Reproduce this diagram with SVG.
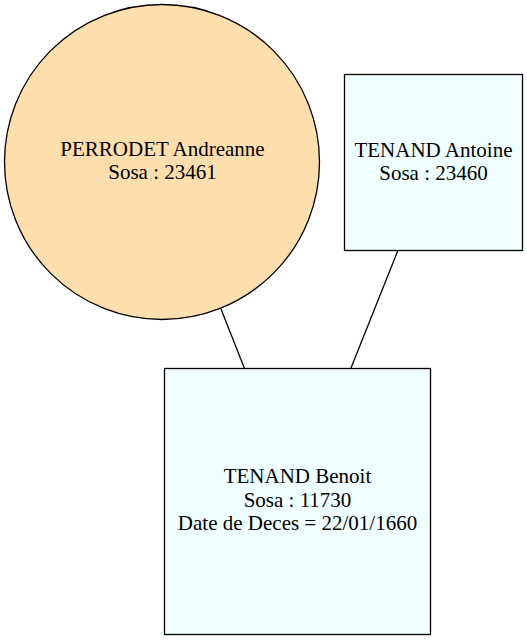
<svg xmlns="http://www.w3.org/2000/svg" width="527" height="640" viewBox="0 0 527 640">
<style>
text{font-family:"Liberation Serif","Times New Roman",serif;font-size:21px;fill:#000;text-anchor:middle}
.n{stroke:#000;stroke-width:1.3}
.e{stroke:#000;stroke-width:1.3;fill:none}
</style>
<rect width="527" height="640" fill="#fff"/>
<g id="edges">
<path class="e" d="M221,309 L244.3,368"/>
<path class="e" d="M397.7,251 L351,368"/>
</g>
<g id="perrodet">
<circle class="n" cx="162" cy="162" r="157.5" fill="#ffdead"/>
<text x="162.5" y="156">PERRODET Andreanne</text>
<text x="162.5" y="179.3">Sosa : 23461</text>
</g>
<g id="antoine">
<rect class="n" x="344.5" y="74.5" width="178" height="176" fill="#f0ffff"/>
<text x="433.5" y="156.5">TENAND Antoine</text>
<text x="433.5" y="179.8">Sosa : 23460</text>
</g>
<g id="benoit">
<rect class="n" x="164.5" y="368.5" width="266" height="266" fill="#f0ffff"/>
<text x="297.5" y="483.3">TENAND Benoit</text>
<text x="297.5" y="506.6">Sosa : 11730</text>
<text x="297.5" y="530">Date de Deces = 22/01/1660</text>
</g>
</svg>
